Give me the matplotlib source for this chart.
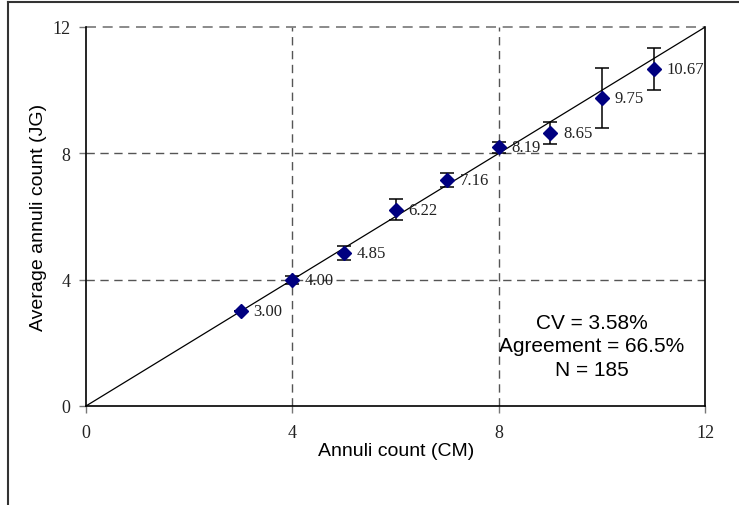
import matplotlib.pyplot as plt
import numpy as np
from matplotlib.lines import Line2D

# annuli counts (CM) vs average count by JG
cm_count = [3, 4, 5, 6, 7, 8, 9, 10, 11]
jg_mean = [3.00, 4.00, 4.85, 6.22, 7.16, 8.19, 8.65, 9.75, 10.67]
jg_err = [0.0, 0.13, 0.22, 0.33, 0.23, 0.18, 0.34, 0.96, 0.68]
point_labels = ["3.00", "4.00", "4.85", "6.22", "7.16", "8.19", "8.65", "9.75", "10.67"]
ticks = [0, 4, 8, 12]
stats_text = "CV = 3.58%\nAgreement = 66.5%\nN = 185"

fig = plt.figure(figsize=(7.39, 5.06), dpi=100)
ax = fig.add_axes([0.1164, 0.1957, 0.838, 0.749])

# 1:1 line
ax.plot([0, 12], [0, 12], color="black", lw=0.9, zorder=2)

ax.errorbar(cm_count, jg_mean, yerr=jg_err, fmt="D", color="#000080",
            markersize=7, ecolor="black", elinewidth=1.1, capsize=5,
            capthick=1.1, zorder=3)

for xv, yv, lab in zip(cm_count, jg_mean, point_labels):
    ax.annotate(lab, (xv, yv), xytext=(9, 0), textcoords="offset points",
                va="center", ha="left", fontsize=12,
                family="Liberation Serif", color="#222222")

ax.set_xlim(0, 12)
ax.set_ylim(0, 12)
ax.set_xticks(ticks)
ax.set_yticks(ticks)
for lab in ax.get_xticklabels() + ax.get_yticklabels():
    lab.set_family("Liberation Serif")
    lab.set_fontsize(13)
ax.tick_params(axis="both", direction="out", length=5, width=1,
               color="#777777", labelcolor="#222222")
ax.tick_params(axis="x", pad=8)
ax.tick_params(axis="y", pad=6)

# dashed grid at 4, 8, 12
for v in [4, 8]:
    ax.axvline(v, color="#555555", lw=1, ls=(0, (6, 4)), zorder=1)
    ax.axhline(v, color="#555555", lw=1, ls=(0, (6, 4)), zorder=1)
ax.axhline(12, color="#777777", lw=1.2, ls=(0, (6, 4)), zorder=1, clip_on=False)

ax.spines["top"].set_visible(False)
for s in ["left", "bottom", "right"]:
    ax.spines[s].set_color("black")
    ax.spines[s].set_linewidth(1.2)

ax.set_xlabel("Annuli count (CM)", fontsize=14, family="Liberation Sans",
              labelpad=1)
ax.set_ylabel("Average annuli count (JG)", fontsize=14, family="Liberation Sans",
              labelpad=4)

ax.text(592 / 739, 1 - 347 / 506, stats_text, transform=fig.transFigure,
        ha="center", va="center", fontsize=15, family="Liberation Sans",
        linespacing=1.3)

# outer frame (left and top visible)
fig.add_artist(Line2D([8 / 739, 8 / 739], [0, 1 - 3 / 506], color="#333333",
                      lw=1.5, transform=fig.transFigure))
fig.add_artist(Line2D([8 / 739, 1], [1 - 3 / 506, 1 - 3 / 506], color="#333333",
                      lw=1.5, transform=fig.transFigure))

fig.savefig("out.png", dpi=100)
